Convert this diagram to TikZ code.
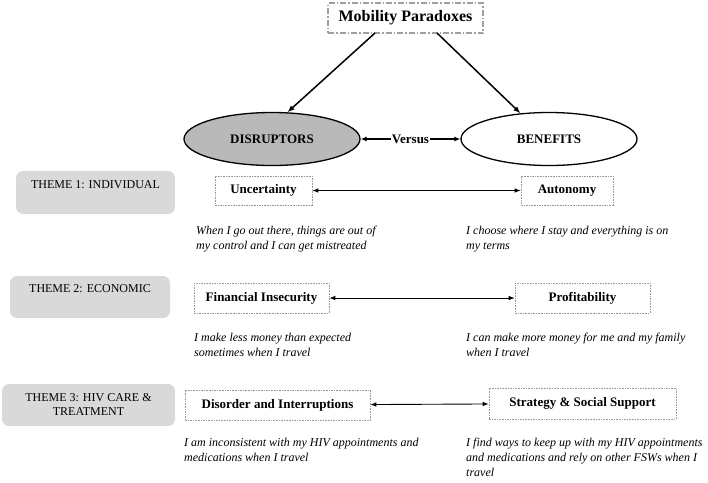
\documentclass[tikz,border=0pt]{standalone}
\usepackage{fontspec}
\setmainfont{Liberation Serif}
\usetikzlibrary{arrows.meta,shapes.geometric}

\begin{document}
\begin{tikzpicture}[x=1pt,y=-1pt,
    topbox/.style={draw=gray!75,line width=1.4pt,dash pattern=on 6pt off 2pt on 1.5pt off 2pt,minimum width=155,minimum height=30,font=\bfseries\fontsize{16}{18}\selectfont},
    oval/.style={ellipse,draw,line width=1.3pt,minimum width=176,minimum height=53,font=\bfseries\fontsize{13}{15}\selectfont},
    theme/.style={fill=gray!30,rounded corners=7pt,font=\fontsize{12}{14}\selectfont,align=center},
    item/.style={draw=gray!80,line width=0.6pt,dash pattern=on 1.6pt off 1pt,inner sep=0pt,font=\bfseries\fontsize{13}{15}\selectfont},
    quote/.style={anchor=north west,inner sep=0pt,align=left,font=\itshape\fontsize{12}{15}\selectfont},
    arr/.style={-{Latex[length=7pt,width=5.5pt]},line width=1.5pt},
    dbl/.style={{Latex[length=6pt,width=4.5pt]}-{Latex[length=6pt,width=4.5pt]},line width=0.9pt}]
    \useasboundingbox (0,0) rectangle (708,482);

    % Top
    \node[topbox] (mob) at (405.5,18) {Mobility Paradoxes};
    \coordinate (mobL) at (375,33); \coordinate (mobR) at (437,33);
    \node[oval,fill=gray!55] (disr) at (272,139) {DISRUPTORS};
    \node[oval] (bene) at (549,139) {BENEFITS};
    \draw[arr] (mobL) -- (disr.60);
    \draw[arr] (mobR) -- (bene.138);
    \draw[{Latex[length=6pt,width=5pt]}-{Latex[length=6pt,width=5pt]},line width=1.3pt] (disr) -- node[fill=white,inner sep=1pt,font=\bfseries\fontsize{13}{15}\selectfont] (vs) {Versus} (bene);

    % Themes
    \node[theme,minimum width=159,minimum height=43,label={[anchor=north,yshift=-6,font=\fontsize{12}{14}\selectfont]north:THEME 1: INDIVIDUAL}] (th1) at (95.5,192.5) {};
    \node[theme,minimum width=160,minimum height=42,label={[anchor=north,yshift=-5,font=\fontsize{12}{14}\selectfont]north:THEME 2: ECONOMIC}] (th2) at (90,297) {};
    \node[theme,minimum width=173,minimum height=42] (th3) at (88.5,405) {THEME 3: HIV CARE \&\\TREATMENT};

    % Disruptors and benefits
    \node[item,minimum width=97,minimum height=29] (unc) at (263.5,190.5) {Uncertainty};
    \node[item,minimum width=92,minimum height=29] (auto) at (567,190.5) {Autonomy};
    \node[item,minimum width=135,minimum height=30] (fin) at (261.5,298) {Financial Insecurity};
    \node[item,minimum width=135,minimum height=30] (prof) at (582.5,298) {Profitability};
    \node[item,minimum width=185,minimum height=30] (diso) at (277.5,405) {Disorder and Interruptions};
    \node[item,minimum width=187,minimum height=31] (strat) at (582.5,403.5) {Strategy \& Social Support};
    \foreach \a/\b in {unc/auto,fin/prof,diso/strat} \draw[dbl] (\a) -- (\b);

    % Quotes
    \node[quote] (q1a) at (196,226) {When I go out there, things are out of\\my control and I can get mistreated};
    \node[quote] (q1b) at (466,226) {I choose where I stay and everything is on\\my terms};
    \node[quote] (q2a) at (194,333) {I make less money than expected\\sometimes when I travel};
    \node[quote] (q2b) at (466,333) {I can make more money for me and my family\\when I travel};
    \node[quote] (q3a) at (184,438) {I am inconsistent with my HIV appointments and\\medications when I travel};
    \node[quote] (q3b) at (466,438) {I find ways to keep up with my HIV appointments\\and medications and rely on other FSWs when I\\travel};
\end{tikzpicture}
\end{document}
